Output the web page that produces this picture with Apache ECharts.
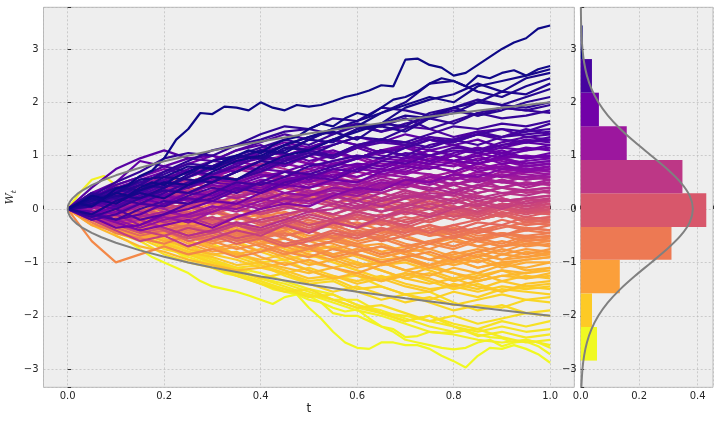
<!DOCTYPE html>
<html>
<head>
<meta charset="utf-8">
<script src="https://cdn.jsdelivr.net/npm/echarts/dist/echarts.min.js"></script>
<style>
  html, body { margin: 0; padding: 0; background: #ffffff; }
  #chart { width: 720px; height: 425px; }
</style>
</head>
<body>
<div id="chart"></div>
<script>
// time grids for the traced paths
var tFine = [0,.025,.05,.075,.1,.125,.15,.175,.2,.225,.25,.275,.3,.325,.35,.375,.4,.425,.45,.475,.5,
             .525,.55,.575,.6,.625,.65,.675,.7,.725,.75,.775,.8,.825,.85,.875,.9,.925,.95,.975,1];
var tCoarse = [0,.05,.1,.15,.2,.25,.3,.35,.4,.45,.5,.55,.6,.65,.7,.75,.8,.85,.9,.95,1];

// outlier paths, traced at the fine grid
var pathsFine = [
  [0,.12,.25,.2,.38,.45,.62,.72,.95,1.3,1.5,1.8,1.78,1.92,1.9,1.85,2.0,1.9,1.85,1.95,1.92,1.95,2.02,2.1,2.15,2.22,2.32,2.3,2.8,2.82,2.7,2.65,2.5,2.55,2.7,2.85,3.0,3.12,3.2,3.38,3.44],
  [0,.1,.05,.2,.3,.25,.4,.5,.45,.6,.7,.8,.75,.9,1.0,1.1,1.05,1.2,1.3,1.35,1.5,1.6,1.55,1.7,1.8,1.75,1.9,2.05,2.1,2.2,2.35,2.45,2.4,2.3,2.5,2.45,2.55,2.6,2.5,2.62,2.68],
  [0,-.1,-.2,-.15,-.5,-.6,-.75,-.9,-1.0,-1.1,-1.2,-1.35,-1.45,-1.5,-1.55,-1.62,-1.7,-1.78,-1.65,-1.6,-1.85,-2.05,-2.3,-2.5,-2.6,-2.62,-2.5,-2.5,-2.55,-2.55,-2.62,-2.75,-2.85,-2.97,-2.75,-2.6,-2.62,-2.55,-2.62,-2.72,-2.88],
  [0,-.05,-.15,-.3,-.4,-.35,-.5,-.6,-.65,-.8,-.95,-1.0,-1.1,-1.2,-1.25,-1.3,-1.35,-1.45,-1.5,-1.55,-1.63,-1.75,-1.85,-1.92,-1.88,-2.05,-2.2,-2.3,-2.45,-2.5,-2.55,-2.6,-2.63,-2.6,-2.5,-2.45,-2.57,-2.5,-2.48,-2.57,-2.72],
  [0,.3,.55,.62,.45,.3,.1,-.1,-.3,-.45,-.6,-.8,-.9,-1.1,-1.2,-1.3,-1.4,-1.5,-1.55,-1.6,-1.7,-1.75,-1.95,-2.0,-2.0,-2.1,-2.2,-2.25,-2.4,-2.38,-2.3,-2.32,-2.3,-2.28,-2.35,-2.4,-2.42,-2.5,-2.45,-2.5,-2.6]
];

// bulk of the fan, estimated at the coarse grid
var pathsCoarse = [
  // ending 2.2 .. 2.8
  [0,.2,.1,.35,.5,.45,.7,.9,1.0,1.2,1.35,1.5,1.55,1.8,1.95,2.1,2.0,2.3,2.4,2.5,2.62],
  [0,-.1,.15,.3,.2,.45,.6,.55,.8,1.0,1.1,1.3,1.45,1.6,1.9,2.05,2.15,2.35,2.2,2.45,2.55],
  [0,.15,.3,.55,.6,.8,.75,.95,1.1,1.05,1.3,1.5,1.65,1.8,2.0,2.35,2.4,2.2,2.1,2.3,2.45],
  [0,.1,.25,.2,.4,.65,.9,1.0,.95,1.2,1.35,1.45,1.3,1.6,1.75,1.7,1.9,2.0,2.2,2.15,2.35],
  [0,.2,.4,.35,.6,.55,.5,.7,.9,1.15,1.1,1.3,1.5,1.55,1.45,1.7,1.8,2.0,1.95,2.1,2.25],
  // ending 1.55 .. 2.2
  [0,.05,.3,.45,.4,.6,.8,1.0,.95,1.1,1.3,1.25,1.5,1.6,1.55,1.8,1.9,1.75,1.85,2.0,2.1],
  [0,-.15,0,.2,.35,.3,.5,.7,.9,.85,1.0,1.2,1.35,1.3,1.5,1.7,1.6,1.8,1.9,1.85,1.95],
  [0,.25,.5,.7,.95,1.05,1.0,1.2,1.3,1.45,1.5,1.4,1.6,1.55,1.7,1.5,1.65,1.8,1.7,1.75,1.85],
  [0,.1,.2,.1,.3,.5,.6,.55,.7,.9,1.05,1.0,1.2,1.3,1.25,1.4,1.55,1.5,1.6,1.55,1.65],
  [0,-.1,-.2,0,.15,.1,.3,.5,.45,.6,.8,.9,1.0,.95,1.15,1.3,1.25,1.4,1.5,1.45,1.6],
  [0,.3,.2,.45,.7,.9,1.1,1.2,1.4,1.55,1.5,1.7,1.65,1.9,1.85,1.75,1.9,2.05,1.95,1.9,2.0],
  [0,.15,.35,.5,.65,.85,.8,1.0,1.15,1.3,1.2,1.4,1.55,1.45,1.6,1.7,1.85,1.75,1.9,1.85,1.8],
  // ending 0.92 .. 1.55
  [0,.4,.75,.95,1.1,.95,.9,1.1,1.2,1.0,1.15,1.3,1.2,1.05,1.15,1.3,1.2,1.1,1.25,1.35,1.3],
  [0,.15,.35,.3,.5,.7,.65,.8,1.0,.9,1.1,1.0,1.2,1.3,1.25,1.15,1.3,1.4,1.35,1.45,1.5],
  [0,-.2,-.1,.1,.05,.25,.4,.3,.5,.7,.65,.8,.95,1.1,1.0,1.2,1.3,1.2,1.35,1.4,1.45],
  [0,.2,.45,.6,.8,.7,.9,.85,1.05,1.2,1.1,1.0,1.15,1.3,1.2,1.35,1.25,1.4,1.3,1.25,1.35],
  [0,.1,0,-.2,-.1,.1,.2,.4,.3,.5,.6,.75,.7,.9,1.05,1.0,1.15,1.1,1.2,1.25,1.3],
  [0,.3,.5,.9,.8,.95,1.0,.85,1.1,1.05,.9,1.0,1.15,1.0,.95,1.1,1.2,1.05,1.15,1.1,1.2],
  [0,-.1,.15,.35,.25,.45,.6,.55,.75,.7,.85,.8,.95,1.1,1.0,.9,1.05,1.15,1.0,1.1,1.15],
  [0,.1,.25,.15,.35,.3,.5,.45,.6,.7,.55,.75,.85,.8,.95,1.0,.9,1.0,1.1,.95,1.05],
  [0,-.15,-.35,-.3,-.1,0,.15,.1,.3,.45,.4,.55,.5,.7,.8,.75,.9,.85,1.0,.95,1.0],
  [0,.2,.1,.3,.5,.45,.65,.8,.75,.9,1.0,.85,.95,1.1,1.2,1.0,.9,1.0,.85,.9,.95],
  [0,.05,.2,.35,.55,.75,.9,1.1,1.25,1.4,1.3,1.5,1.6,1.45,1.55,1.5,1.35,1.45,1.5,1.35,1.4],
  [0,.1,.3,.5,.4,.6,.75,.7,.9,.8,1.0,1.1,.95,1.05,1.2,1.1,1.0,1.15,1.05,1.15,1.1],
  [0,-.05,-.2,-.1,.1,.2,.15,.35,.5,.45,.6,.55,.75,.9,.85,1.0,1.1,1.05,1.2,1.3,1.25],
  [0,.2,.4,.55,.7,.85,1.0,.9,1.1,1.25,1.15,1.3,1.2,1.05,1.15,1.0,.9,1.05,.95,1.0,.95],
  [0,.15,.05,.25,.45,.4,.6,.55,.75,.95,1.05,.95,1.15,1.25,1.2,1.35,1.3,1.45,1.35,1.5,1.4],
  [0,-.1,.05,.2,.1,.3,.25,.45,.35,.55,.65,.6,.8,.75,.9,.85,1.0,.9,1.05,.95,1.0],
  [0,.25,.35,.3,.5,.45,.65,.85,.95,.9,1.1,1.2,1.35,1.25,1.4,1.3,1.2,1.3,1.15,1.25,1.2],
  // ending 0.3 .. 0.92
  [0,.15,.05,.2,.35,.3,.45,.4,.55,.5,.65,.6,.75,.7,.85,.8,.7,.85,.95,.85,.9],
  [0,-.1,-.25,-.4,-.3,-.2,-.35,-.15,0,.1,.05,.25,.4,.35,.55,.5,.65,.6,.75,.8,.85],
  [0,.25,.4,.3,.55,.7,.6,.8,.7,.85,.75,.9,1.0,.85,.8,.95,.9,.75,.85,.7,.8],
  [0,0,.15,.1,.25,.2,.35,.5,.45,.3,.4,.55,.5,.65,.6,.5,.65,.8,.7,.75,.7],
  [0,-.2,-.1,-.3,-.15,-.25,-.05,.1,0,.2,.15,.3,.25,.4,.55,.45,.6,.5,.65,.6,.65],
  [0,.1,.3,.45,.35,.5,.65,.55,.7,.6,.45,.55,.7,.6,.5,.65,.55,.7,.6,.55,.6],
  [0,.2,.25,.4,.3,.15,.3,.2,.35,.45,.3,.2,.35,.5,.4,.55,.45,.6,.5,.45,.55],
  [0,-.05,.1,-.05,-.2,-.1,.05,-.05,.1,.2,.35,.25,.15,.3,.45,.4,.3,.45,.55,.4,.5],
  [0,.15,.3,.2,.4,.55,.5,.7,.85,.75,.6,.7,.55,.45,.6,.5,.35,.45,.4,.5,.45],
  [0,-.15,-.3,-.2,-.35,-.5,-.4,-.25,-.35,-.2,-.05,0,.15,.05,.2,.3,.25,.4,.3,.35,.4],
  [0,.1,0,.15,.05,.2,.1,.25,.35,.2,.3,.15,.05,.2,.35,.25,.15,.3,.4,.3,.35],
  [0,.05,.2,.35,.5,.4,.6,.75,.9,1.0,.85,1.05,.95,.8,.9,1.0,.85,.75,.8,.7,.75],
  [0,.05,.15,.3,.25,.4,.55,.5,.65,.6,.7,.85,.8,.95,.9,1.0,.9,.85,.95,.85,.9],
  [0,-.15,-.05,.1,.25,.15,.3,.45,.4,.55,.5,.65,.6,.75,.7,.85,.8,.95,.9,.8,.85],
  [0,.1,.3,.2,.4,.6,.75,.9,.8,.95,.85,.7,.8,.65,.75,.9,.85,.7,.8,.75,.8],
  [0,.2,.1,.25,.15,.3,.45,.35,.5,.4,.55,.7,.6,.75,.65,.8,.7,.85,.75,.7,.75],
  [0,-.1,-.2,-.35,-.2,-.1,.05,0,.15,.3,.25,.4,.35,.5,.45,.6,.55,.65,.6,.75,.7],
  [0,.15,.3,.45,.6,.7,.6,.5,.65,.55,.4,.5,.45,.6,.7,.65,.55,.7,.6,.7,.65],
  [0,.05,-.1,.05,.2,.1,.25,.4,.3,.45,.6,.5,.4,.55,.45,.6,.7,.55,.65,.55,.6],
  [0,.1,.25,.4,.55,.45,.6,.75,.65,.5,.6,.45,.55,.4,.5,.6,.45,.55,.5,.6,.55],
  [0,-.1,-.25,-.15,-.05,-.15,0,.15,.05,.2,.1,.25,.35,.3,.45,.35,.5,.4,.55,.45,.5],
  [0,.2,.35,.25,.4,.3,.2,.35,.5,.4,.55,.45,.3,.4,.5,.35,.45,.55,.4,.5,.45],
  [0,.05,.2,.35,.3,.5,.65,.55,.7,.6,.75,.6,.5,.4,.5,.35,.45,.3,.4,.35,.4],
  [0,-.05,-.2,-.1,-.25,-.15,-.3,-.15,-.05,.05,-.05,.1,0,.15,.25,.2,.3,.2,.3,.25,.35],
  [0,.3,.45,.6,.75,.65,.8,.95,1.1,1.0,1.15,1.05,.95,1.1,1.0,.9,1.0,.85,.95,.8,.85],
  [0,-.1,0,.1,0,-.15,-.05,.1,.2,.1,.25,.35,.3,.45,.55,.5,.65,.55,.7,.65,.6],
  // ending -0.33 .. 0.3
  [0,-.1,.05,.15,0,.1,-.05,.1,.2,.3,.15,.25,.1,-.05,.05,.2,.1,.25,.15,.2,.25],
  [0,.2,.35,.25,.45,.3,.2,.35,.25,.4,.3,.45,.35,.2,.1,.25,.15,.05,.2,.1,.15],
  [0,-.15,-.3,-.2,-.4,-.55,-.45,-.3,-.45,-.3,-.15,-.25,-.1,-.2,-.05,.1,0,-.1,.05,-.05,.05],
  [0,.1,-.05,.1,.25,.15,.3,.2,.05,.15,0,-.1,.05,-.05,.1,.2,.05,-.1,.05,-.05,0],
  [0,-.05,.1,0,-.15,-.05,-.2,-.1,-.25,-.15,0,-.15,-.3,-.2,-.35,-.2,-.1,-.2,-.05,-.15,-.05],
  [0,.15,.3,.45,.6,.5,.65,.55,.4,.5,.35,.2,.3,.15,.05,.15,0,-.15,0,-.05,-.1],
  [0,-.2,-.35,-.5,-.4,-.6,-.5,-.65,-.55,-.7,-.6,-.45,-.55,-.4,-.3,-.45,-.3,-.2,-.1,-.2,-.15],
  [0,.05,.2,.1,.25,.4,.3,.45,.35,.2,.3,.1,0,.1,-.05,-.15,-.05,-.2,-.1,-.25,-.2],
  [0,-.1,-.2,-.1,.05,-.05,-.2,-.1,-.25,-.35,-.2,-.3,-.15,-.25,-.4,-.3,-.45,-.35,-.2,-.3,-.25],
  [0,.05,-.1,-.2,-.1,.05,.2,.1,.25,.15,.3,.4,.3,.15,.25,.1,.2,0,.1,.05,.1],
  [0,-.2,-.4,-.6,-.5,-.7,-.55,-.4,-.5,-.3,-.45,-.25,-.35,-.15,-.05,-.15,0,.1,0,.15,.2],
  [0,.1,0,-.15,-.05,-.2,-.35,-.25,-.4,-.5,-.4,-.55,-.45,-.6,-.5,-.35,-.5,-.4,-.3,-.4,-.3],
  [0,.1,.25,.15,.3,.2,.35,.25,.15,.3,.2,.1,.25,.15,.3,.2,.35,.25,.15,.2,.25],
  [0,-.1,-.05,-.2,-.1,-.25,-.15,-.3,-.2,-.1,0,-.1,.05,-.05,.1,0,.15,.05,.2,.1,.2],
  [0,.15,.05,.2,.35,.5,.4,.55,.45,.6,.5,.35,.45,.3,.2,.35,.25,.1,.2,.05,.15],
  [0,-.05,-.15,-.05,.1,0,.15,.05,-.1,0,.15,.05,-.05,.1,0,-.1,.05,-.05,.1,0,.1],
  [0,.2,.1,-.05,.05,-.1,-.2,-.1,-.25,-.15,-.3,-.2,-.05,-.15,0,-.1,.05,-.05,.1,0,.05],
  [0,-.15,-.3,-.45,-.35,-.5,-.4,-.55,-.45,-.3,-.4,-.25,-.35,-.2,-.3,-.15,-.05,-.15,0,-.1,0],
  [0,.1,.2,.3,.2,.35,.45,.3,.4,.25,.15,.3,.2,.1,.2,.05,-.05,.05,-.1,0,-.05],
  [0,-.05,.05,-.1,-.2,-.1,-.25,-.15,-.3,-.2,-.35,-.25,-.15,-.3,-.2,-.1,-.2,-.05,-.15,-.05,-.1],
  [0,.05,-.05,.1,.2,.05,.15,0,-.1,.05,-.05,-.2,-.1,-.25,-.15,-.25,-.1,-.2,-.1,-.2,-.15],
  [0,-.2,-.1,-.25,-.4,-.3,-.45,-.6,-.5,-.65,-.55,-.4,-.5,-.35,-.45,-.3,-.4,-.25,-.3,-.15,-.2],
  [0,.15,.25,.4,.5,.4,.55,.45,.3,.4,.25,.1,.2,.05,-.05,.05,-.1,-.2,-.1,-.2,-.25],
  [0,.05,.15,.05,.2,.35,.25,.4,.3,.15,.25,.4,.3,.45,.35,.2,.3,.15,.25,.35,.3],
  [0,.1,0,.1,-.05,.05,-.1,.05,.15,.05,.2,.1,-.05,.05,-.1,0,-.15,-.05,.05,-.05,0],
  [0,-.15,-.25,-.1,-.25,-.35,-.2,-.3,-.15,-.25,-.4,-.3,-.45,-.35,-.5,-.4,-.3,-.45,-.35,-.25,-.3],
  [0,-.1,-.3,-.4,-.5,-.35,-.45,-.3,-.4,-.25,-.1,-.2,-.05,-.15,0,.1,0,.15,.05,.2,.15],
  [0,.05,.15,0,-.1,-.2,-.05,-.15,0,.1,0,-.1,-.2,-.1,-.25,-.15,0,-.1,.05,-.05,-.05],
  // ending -0.95 .. -0.33
  [0,-.1,-.25,-.15,-.3,-.45,-.35,-.5,-.4,-.55,-.7,-.6,-.45,-.55,-.4,-.5,-.35,-.45,-.3,-.35,-.4],
  [0,.15,.05,.2,.1,-.05,.1,0,-.15,-.05,-.2,-.35,-.25,-.4,-.3,-.45,-.35,-.5,-.45,-.55,-.5],
  [0,-.6,-1.0,-.85,-.7,-.85,-.75,-.9,-.8,-.65,-.75,-.6,-.7,-.85,-.75,-.6,-.7,-.55,-.65,-.5,-.55],
  [0,-.05,-.2,-.3,-.5,-.4,-.6,-.75,-.65,-.8,-.9,-.75,-.85,-1.0,-.9,-.8,-.95,-.8,-.7,-.65,-.6],
  [0,.1,.25,.15,0,.1,-.05,-.2,-.1,-.25,-.4,-.3,-.45,-.6,-.5,-.65,-.55,-.7,-.8,-.65,-.7],
  [0,-.15,-.1,-.3,-.45,-.35,-.55,-.45,-.6,-.7,-.55,-.65,-.8,-.7,-.85,-.95,-.8,-.9,-.75,-.85,-.75],
  [0,.05,-.1,-.05,-.2,-.3,-.2,-.35,-.5,-.4,-.6,-.75,-.65,-.8,-.95,-1.05,-.9,-1.0,-.85,-.9,-.8],
  [0,-.2,-.35,-.55,-.45,-.65,-.8,-.7,-.9,-1.05,-.95,-1.1,-1.2,-1.05,-.95,-1.1,-1.0,-.85,-.95,-.8,-.85],
  [0,-.25,-.45,-.55,-.65,-.5,-.6,-.45,-.55,-.4,-.25,-.35,-.5,-.4,-.55,-.65,-.5,-.6,-.45,-.5,-.45],
  [0,.1,-.05,.05,-.1,-.25,-.15,-.3,-.45,-.35,-.55,-.5,-.65,-.8,-.7,-.85,-1.0,-.9,-1.05,-.95,-.9],
  [0,-.1,-.2,-.35,-.25,-.4,-.3,-.45,-.55,-.45,-.6,-.5,-.4,-.5,-.35,-.45,-.55,-.4,-.5,-.35,-.4],
  [0,.1,.2,.1,0,.1,-.05,-.15,-.05,-.2,-.3,-.2,-.35,-.45,-.35,-.5,-.4,-.55,-.45,-.55,-.5],
  [0,-.05,.05,-.1,-.25,-.15,-.3,-.45,-.35,-.5,-.4,-.55,-.65,-.55,-.7,-.6,-.5,-.6,-.5,-.6,-.55],
  [0,-.2,-.3,-.2,-.35,-.5,-.65,-.55,-.7,-.85,-.75,-.9,-.8,-.7,-.8,-.65,-.75,-.6,-.7,-.55,-.6],
  [0,.05,-.1,-.2,-.1,-.25,-.4,-.3,-.45,-.35,-.5,-.45,-.6,-.5,-.65,-.75,-.6,-.7,-.6,-.7,-.65],
  [0,.15,.3,.2,.35,.25,.1,.2,.05,-.1,0,-.15,-.3,-.2,-.35,-.5,-.45,-.6,-.7,-.6,-.7],
  [0,-.1,-.25,-.4,-.3,-.45,-.6,-.5,-.65,-.55,-.7,-.85,-.75,-.9,-.8,-.95,-.85,-.75,-.85,-.75,-.8],
  [0,-.05,-.15,-.05,-.2,-.1,-.25,-.4,-.3,-.45,-.6,-.55,-.7,-.65,-.8,-.75,-.9,-.8,-.95,-.9,-.85],
  [0,-.3,-.4,-.55,-.45,-.6,-.75,-.65,-.8,-.7,-.85,-.95,-.85,-1.0,-.9,-1.05,-.95,-1.1,-1.0,-.95,-.9],
  [0,.1,0,.15,.05,-.1,0,-.15,-.25,-.15,-.3,-.2,-.35,-.25,-.4,-.3,-.45,-.35,-.5,-.4,-.45],
  // ending -1.58 .. -0.95
  [0,-.1,-.3,-.45,-.6,-.5,-.7,-.85,-.75,-.9,-1.05,-.95,-1.1,-1.0,-1.15,-1.25,-1.1,-1.2,-1.05,-1.1,-1.0],
  [0,.05,-.1,-.25,-.15,-.35,-.5,-.45,-.65,-.8,-.7,-.9,-1.05,-1.0,-1.15,-1.05,-1.2,-1.3,-1.15,-1.2,-1.1],
  [0,-.2,-.4,-.35,-.55,-.75,-.85,-.8,-1.0,-1.1,-1.2,-1.1,-1.25,-1.35,-1.2,-1.3,-1.45,-1.35,-1.25,-1.3,-1.2],
  [0,.05,.2,.1,-.05,-.2,-.4,-.3,-.5,-.65,-.8,-.7,-.9,-1.05,-1.0,-1.15,-1.3,-1.2,-1.35,-1.25,-1.3],
  [0,-.15,-.3,-.5,-.65,-.8,-.9,-1.05,-1.0,-1.15,-1.3,-1.25,-1.4,-1.3,-1.45,-1.55,-1.4,-1.5,-1.35,-1.45,-1.4],
  [0,-.1,-.05,-.2,-.35,-.5,-.45,-.6,-.8,-.95,-.85,-1.0,-1.15,-1.3,-1.2,-1.35,-1.5,-1.4,-1.55,-1.45,-1.5],
  [0,-.3,-.5,-.7,-.8,-.95,-1.05,-1.15,-1.1,-1.0,-1.15,-1.3,-1.2,-1.35,-1.25,-1.1,-1.2,-1.35,-1.25,-1.2,-1.15],
  [0,.1,0,-.15,-.3,-.25,-.45,-.6,-.55,-.75,-.9,-.85,-1.0,-1.15,-1.3,-1.4,-1.3,-1.45,-1.55,-1.4,-1.35],
  [0,-.1,-.2,-.1,-.25,-.4,-.3,-.5,-.65,-.55,-.7,-.85,-.75,-.9,-.8,-.95,-1.05,-.95,-1.1,-1.0,-1.0],
  [0,-.15,-.35,-.5,-.4,-.6,-.7,-.85,-.95,-.85,-1.0,-1.1,-1.0,-1.15,-1.3,-1.2,-1.35,-1.25,-1.15,-1.3,-1.25],
  [0,.1,.05,-.1,-.2,-.35,-.25,-.4,-.55,-.65,-.75,-.7,-.85,-.95,-.9,-1.05,-.95,-1.1,-1.0,-1.15,-1.1],
  [0,-.2,-.3,-.45,-.6,-.7,-.85,-.95,-1.1,-1.2,-1.1,-1.25,-1.35,-1.25,-1.4,-1.5,-1.45,-1.55,-1.45,-1.5,-1.45],
  // ending -2.21 .. -1.58
  [0,-.15,-.35,-.55,-.75,-.85,-1.0,-1.15,-1.3,-1.2,-1.4,-1.55,-1.45,-1.6,-1.75,-1.65,-1.8,-1.7,-1.6,-1.7,-1.65],
  [0,-.1,-.2,-.4,-.6,-.8,-.95,-1.1,-1.05,-1.25,-1.4,-1.35,-1.55,-1.7,-1.6,-1.75,-1.9,-1.8,-1.85,-1.7,-1.75],
  [0,.05,-.15,-.3,-.5,-.45,-.65,-.85,-1.0,-.95,-1.15,-1.3,-1.25,-1.45,-1.6,-1.55,-1.75,-1.9,-1.8,-1.95,-1.9],
  [0,-.2,-.45,-.6,-.85,-1.0,-1.1,-1.25,-1.4,-1.55,-1.5,-1.7,-1.85,-1.8,-1.95,-2.1,-2.0,-2.15,-2.05,-1.95,-2.0],
  [0,-.1,-.3,-.5,-.7,-.9,-1.05,-1.2,-1.35,-1.5,-1.65,-1.6,-1.8,-1.95,-2.1,-2.0,-2.15,-2.25,-2.1,-2.2,-2.1],
  [0,.15,.05,-.1,-.3,-.5,-.7,-.9,-1.05,-1.2,-1.35,-1.3,-1.5,-1.45,-1.6,-1.7,-1.55,-1.65,-1.5,-1.55,-1.6],
  // ending below -2.21
  [0,-.1,-.25,-.45,-.6,-.8,-1.0,-1.1,-1.3,-1.45,-1.6,-1.7,-1.85,-1.95,-2.1,-2.0,-2.2,-2.3,-2.2,-2.3,-2.25],
  [0,-.15,-.3,-.5,-.7,-.85,-1.0,-1.15,-1.3,-1.4,-1.55,-1.7,-1.7,-1.95,-2.0,-2.1,-2.2,-2.38,-2.3,-2.41,-2.35],
  [0,-.05,-.2,-.4,-.55,-.75,-.95,-1.1,-1.2,-1.35,-1.5,-1.6,-1.8,-1.9,-2.05,-2.2,-2.3,-2.25,-2.4,-2.5,-2.45],
  [0,-.1,-.3,-.5,-.65,-.8,-1.05,-1.25,-1.4,-1.5,-1.6,-1.75,-1.9,-2.0,-2.15,-2.3,-2.35,-2.45,-2.5,-2.45,-2.55]
];

// +/- envelope
var boundT   = [0,.001,.0025,.005,.01,.02,.03,.05,.07,.1,.15,.2,.25,.3,.4,.5,.6,.7,.8,.9,1];
var boundUp  = [0,.063,.1,.141,.2,.283,.346,.447,.529,.632,.775,.894,1.0,1.095,1.265,1.414,1.549,1.673,1.789,1.897,2.0];
var boundLow = [0,-.063,-.1,-.141,-.2,-.283,-.346,-.447,-.529,-.632,-.775,-.894,-1.0,-1.095,-1.265,-1.414,-1.549,-1.673,-1.789,-1.897,-2.0];

// histogram of final values
var binLo   = [-2.84,-2.21,-1.58,-0.95,-0.335,0.295,0.92,1.55,2.18,2.81];
var binHi   = [-2.21,-1.58,-0.95,-0.335,0.295,0.92,1.55,2.18,2.81,3.44];
var density = [0.0557,0.0386,0.1337,0.3105,0.4295,0.348,0.1575,0.0623,0.0385,0.0068];

// density curve on the histogram
var pdfY = [-3.34,-3,-2.75,-2.5,-2.25,-2,-1.75,-1.5,-1.25,-1,-0.75,-0.5,-0.25,0,0.25,0.5,0.75,1,1.25,1.5,1.75,2,2.25,2.5,2.75,3,3.25,3.5,3.78];
var pdfD = [0.0022,0.006,0.0116,0.0213,0.0369,0.0604,0.0931,0.1356,0.1863,0.2416,0.2957,0.3417,0.3727,0.3836,0.3727,0.3417,0.2957,0.2416,0.1863,0.1356,0.0931,0.0604,0.0369,0.0213,0.0116,0.006,0.0029,0.0013,0.0005];

// plasma colormap stops, and the bar colours bottom to top
var PLASMA = ['#0d0887','#41049d','#6a00a8','#8f0da4','#b12a90','#cc4778','#e16462','#f2844b','#fca636','#fcce25','#f0f921'];
var HIST_COLORS = ['#f0f921','#fdca26','#fb9f3a','#ed7953','#d8576b','#bd3786','#9c179e','#7201a8','#46039f','#0d0887'];

function hexToRgb(h) {
    return [parseInt(h.substr(1, 2), 16), parseInt(h.substr(3, 2), 16), parseInt(h.substr(5, 2), 16)];
}
function plasma(x) {
    x = Math.max(0, Math.min(1, x));
    var p = x * (PLASMA.length - 1);
    var i = Math.min(PLASMA.length - 2, Math.floor(p));
    var f = p - i;
    var a = hexToRgb(PLASMA[i]), b = hexToRgb(PLASMA[i + 1]);
    return 'rgb(' + [0, 1, 2].map(function (k) { return Math.round(a[k] + (b[k] - a[k]) * f); }).join(',') + ')';
}

var allPaths = [];
pathsFine.forEach(function (p) { allPaths.push({ t: tFine, v: p }); });
pathsCoarse.forEach(function (p) { allPaths.push({ t: tCoarse, v: p }); });
var n = allPaths.length;

// paths are coloured by the rank of their final value and drawn low to high
var order = allPaths.map(function (p, i) { return i; });
order.sort(function (a, b) {
    return allPaths[a].v[allPaths[a].v.length - 1] - allPaths[b].v[allPaths[b].v.length - 1];
});

var series = [];
order.forEach(function (idx, r) {
    var p = allPaths[idx];
    series.push({
        type: 'line',
        xAxisIndex: 0, yAxisIndex: 0,
        data: p.t.map(function (t, i) { return [t, p.v[i]]; }),
        symbol: 'none', silent: true, z: 2,
        lineStyle: { width: 2.2, color: plasma(1 - r / (n - 1)) }
    });
});
series.push({
    type: 'line', xAxisIndex: 0, yAxisIndex: 0, symbol: 'none', silent: true, z: 5,
    data: boundT.map(function (t, i) { return [t, boundUp[i]]; }),
    lineStyle: { width: 2, color: '#808080' }
});
series.push({
    type: 'line', xAxisIndex: 0, yAxisIndex: 0, symbol: 'none', silent: true, z: 5,
    data: boundT.map(function (t, i) { return [t, boundLow[i]]; }),
    lineStyle: { width: 2, color: '#808080' }
});
series.push({
    type: 'custom', xAxisIndex: 1, yAxisIndex: 1, silent: true, z: 2,
    data: binLo.map(function (lo, i) { return [lo, binHi[i], density[i], i]; }),
    encode: { x: 2, y: [0, 1] },
    renderItem: function (params, api) {
        var a = api.coord([0, api.value(1)]);
        var b = api.coord([api.value(2), api.value(0)]);
        return {
            type: 'rect',
            shape: { x: a[0], y: a[1], width: b[0] - a[0], height: b[1] - a[1] },
            style: { fill: HIST_COLORS[api.value(3)] }
        };
    }
});
series.push({
    type: 'line', xAxisIndex: 1, yAxisIndex: 1, symbol: 'none', silent: true, z: 5, smooth: 0.3,
    data: pdfY.map(function (y, i) { return [pdfD[i], y]; }),
    lineStyle: { width: 2, color: '#808080' }
});

var labelFont = { fontFamily: 'DejaVu Sans', fontSize: 10, color: '#262626' };
var gridLine = { show: true, lineStyle: { color: '#b2b2b2', width: 0.6, type: [2, 2] } };
var tick = { show: true, inside: true, length: 3.5, lineStyle: { color: '#333333', width: 1 } };

function onStep(v, step) { return Math.abs(v / step - Math.round(v / step)) < 1e-6; }
function fmtX(v) { return onStep(v, 0.2) ? v.toFixed(1) : ''; }
function fmtY(v) {
    if (!onStep(v, 1)) return '';
    var r = Math.round(v);
    return r < 0 ? '\u2212' + Math.abs(r) : String(r);
}

var option = {
    animation: false,
    backgroundColor: '#ffffff',
    grid: [
        { left: 43.5, right: 145.7, top: 7.3, bottom: 37.7, containLabel: false, outerBoundsMode: 'none',
          show: true, backgroundColor: '#eeeeee', borderColor: '#bcbcbc', borderWidth: 1 },
        { left: 580.7, right: 7, top: 7.3, bottom: 37.7, containLabel: false, outerBoundsMode: 'none',
          show: true, backgroundColor: '#eeeeee', borderColor: '#bcbcbc', borderWidth: 1 }
    ],
    xAxis: [
        {
            gridIndex: 0, type: 'value', min: -0.05, max: 1.05,
            name: 't', nameLocation: 'middle', nameGap: 16, nameMoveOverlap: false,
            nameTextStyle: { fontFamily: 'DejaVu Sans', fontSize: 12, color: '#262626' },
            axisLine: { show: false }, axisTick: tick, splitLine: gridLine,
            axisLabel: Object.assign({ margin: 4, formatter: fmtX }, labelFont)
        },
        {
            gridIndex: 1, type: 'value', min: 0, max: 0.4525, interval: 0.2,
            axisLine: { show: false }, axisTick: tick, splitLine: gridLine,
            axisLabel: Object.assign({ margin: 4, formatter: fmtX }, labelFont)
        }
    ],
    yAxis: [
        {
            gridIndex: 0, type: 'value', min: -3.34, max: 3.78,
            name: '{w|W}{s|t}', nameLocation: 'middle', nameGap: 26, nameRotate: 90, nameMoveOverlap: false,
            nameTextStyle: {
                rich: {
                    w: { fontFamily: 'DejaVu Serif', fontStyle: 'italic', fontSize: 11, color: '#262626' },
                    s: { fontFamily: 'DejaVu Serif', fontStyle: 'italic', fontSize: 8, color: '#262626', padding: [6, 0, 0, 0] }
                }
            },
            axisLine: { show: false }, axisTick: tick, splitLine: gridLine,
            axisLabel: Object.assign({ margin: 5, formatter: fmtY }, labelFont)
        },
        {
            gridIndex: 1, type: 'value', min: -3.34, max: 3.78,
            axisLine: { show: false }, axisTick: tick, splitLine: gridLine,
            axisLabel: Object.assign({ margin: 4, formatter: fmtY }, labelFont)
        }
    ],
    series: series
};

var myChart = echarts.init(document.getElementById('chart'), null, { renderer: 'canvas' });
myChart.setOption(option);
</script>
</body>
</html>
